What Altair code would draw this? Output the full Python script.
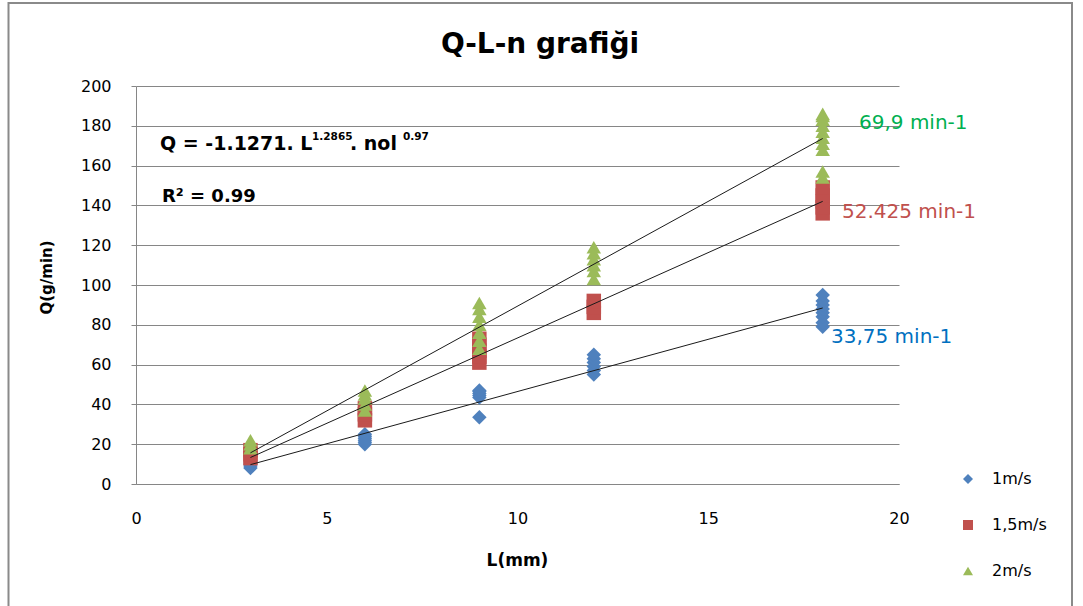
import altair as alt
import pandas as pd

# ---------------- data ----------------
L_values = [3, 6, 9, 12, 18]
series_names = ["1m/s", "1,5m/s", "2m/s"]

q_1ms = [
    [8, 9, 10, 11],
    [20, 21, 22, 23, 24, 25],
    [33.5, 43.5, 44.5, 45.5, 46.5, 47],
    [55, 57, 59, 61, 63, 65],
    [79, 81, 84, 86, 88, 90, 92, 95],
]
q_15ms = [
    [13, 15, 17],
    [32, 35, 38],
    [61, 64, 67, 70, 73],
    [86, 89, 92],
    [136, 139, 142, 145, 149],
]
q_2ms = [
    [18, 20, 22],
    [37, 40, 43, 45, 47],
    [68, 72, 76, 80, 84, 88, 91],
    [103, 107, 110, 113, 116, 119],
    [154, 157, 168, 171, 174, 177, 180, 183, 185, 186],
]

series_colors = ["#4F81BD", "#C0504D", "#9BBB59"]
series_shapes = ["diamond", "square", "triangle-up"]

label_texts = ["33,75 min-1", "52.425 min-1", "69,9 min-1"]
label_colors = ["#0070C0", "#C0504D", "#00B050"]

title_text = "Q-L-n grafiği"
x_title = "L(mm)"
y_title = "Q(g/min)"
x_ticks = [0, 5, 10, 15, 20]
y_ticks = [0, 20, 40, 60, 80, 100, 120, 140, 160, 180, 200]

rows = []
for name, series in zip(series_names, [q_1ms, q_15ms, q_2ms]):
    for L, qs in zip(L_values, series):
        for q in qs:
            rows.append({"series": name, "L": L, "Q": q})
df = pd.DataFrame(rows)

# ---------------- layout ----------------
W, H = 763, 398
PL, PT = 136, 86
FONT = "DejaVu Sans"
GRID = "#868686"


def txt(s, x, y, size, color="#000000", weight="normal", align="left"):
    return (
        alt.Chart(pd.DataFrame({"t": [s]}))
        .mark_text(align=align, baseline="alphabetic", fontSize=size, font=FONT,
                   fontWeight=weight, color=color)
        .encode(text="t:N", x=alt.value(x - PL), y=alt.value(y - PT))
    )


leg = alt.Legend(
    orient="none", legendX=824, legendY=385, title=None, padding=0,
    labelFont=FONT, labelFontSize=16, labelColor="#000000", labelOffset=16,
    symbolSize=100, symbolStrokeWidth=0, symbolOpacity=1, rowPadding=30,
)

x_axis = alt.Axis(values=x_ticks, tickCount=len(x_ticks) + 1, grid=False, ticks=False,
                  tickSize=0, labelPadding=26, labelFlush=False, labelOverlap=False,
                  labelFont=FONT, labelFontSize=16, labelColor="#000000",
                  domainColor=GRID, domainWidth=1,
                  title=x_title, titleFont=FONT, titleFontSize=17, titleFontWeight="bold",
                  titleX=517 - PL, titleY=560 - H - PT, titleAlign="center",
                  titleBaseline="middle", titleColor="#000000")
y_axis = alt.Axis(values=y_ticks, tickCount=len(y_ticks) + 1, grid=True, gridColor=GRID,
                  gridWidth=1, tickColor=GRID, tickSize=5, labelPadding=20,
                  labelFlush=False, labelOverlap=False,
                  labelFont=FONT, labelFontSize=16, labelColor="#000000",
                  domainColor=GRID, domainWidth=1,
                  title=y_title, titleFont=FONT, titleFontSize=15, titleFontWeight="bold",
                  titleX=46 - PL, titleY=277 - PT, titleAngle=270, titleAlign="center",
                  titleBaseline="middle", titleColor="#000000")

xs = alt.Scale(domain=[0, 20], nice=False)
ys = alt.Scale(domain=[0, 200], nice=False)

border = (
    alt.Chart(pd.DataFrame({"a": [0]}))
    .mark_rect(fillOpacity=0, stroke="#8a8a8a", strokeWidth=2)
    .encode(x=alt.value(8.5 - PL), x2=alt.value(1072 - PL),
            y=alt.value(3 - PT), y2=alt.value(640 - PT))
)

points = (
    alt.Chart(df)
    .mark_point(filled=True, opacity=1, size=210)
    .encode(
        x=alt.X("L:Q", scale=xs, axis=x_axis),
        y=alt.Y("Q:Q", scale=ys, axis=y_axis),
        color=alt.Color("series:N", scale=alt.Scale(domain=series_names, range=series_colors), legend=leg),
        shape=alt.Shape("series:N", scale=alt.Scale(domain=series_names, range=series_shapes), legend=leg),
    )
)

trend = (
    alt.Chart(df)
    .transform_regression("L", "Q", method="linear", groupby=["series"], extent=[3, 18])
    .mark_line(color="#1a1a1a", strokeWidth=1)
    .encode(x=alt.X("L:Q", scale=xs, axis=x_axis), y=alt.Y("Q:Q", scale=ys, axis=y_axis),
            detail="series:N")
)

label_pos = [(831, 343), (842, 218), (859, 129)]
texts = [txt(title_text, 540, 53, 28, weight="bold", align="center")]
for s, c, (px, py) in zip(label_texts, label_colors, label_pos):
    texts.append(txt(s, px, py, 20, color=c))

texts += [
    txt("Q = -1.1271. L", 160, 150, 19, weight="bold"),
    txt("1.2865", 312, 140, 10.5, weight="bold"),
    txt(".  nol", 350, 150, 19, weight="bold"),
    txt("0.97", 403, 140, 10.5, weight="bold"),
    txt("R² =  0.99", 162, 202, 18, weight="bold"),
]

chart = (
    alt.layer(border, points, trend, *texts)
    .properties(width=W, height=H, autosize="none",
                padding={"left": PL, "top": PT, "right": 1083 - PL - W, "bottom": 606 - PT - H},
                background="white")
    .configure_view(stroke=None)
)

chart.save("out.html", embed_options={"renderer": "svg", "actions": False})
